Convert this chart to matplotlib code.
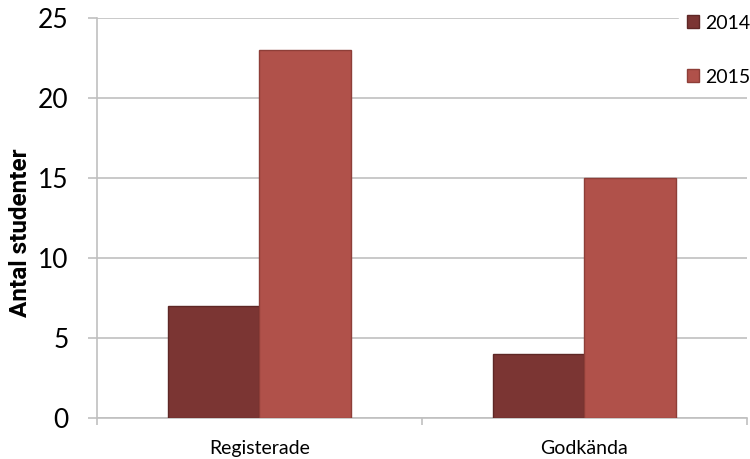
#!/usr/bin/env python3
"""Grouped bar chart: registered vs approved students, 2014 and 2015"""
import matplotlib
matplotlib.use('Agg')
import matplotlib.pyplot as plt
import numpy as np

categories = ['Registerade', 'Godkända']
series_names = ['2014', '2015']
values_2014 = [7, 4]
values_2015 = [23, 15]
yticks = [0, 5, 10, 15, 20, 25]

colors = ['#7b3533', '#b0514a']
edges = ['#5e2725', '#8e3e38']

plt.rcParams['font.family'] = ['Lato', 'DejaVu Sans']

fig = plt.figure(figsize=(7.5, 4.59), dpi=100)
ax = fig.add_axes([0.1293, 0.0893, 0.8667, 0.8715])

x = np.arange(len(categories))
w = 0.283
bars = []
for i, vals in enumerate([values_2014, values_2015]):
    b = ax.bar(x + (i - 0.5) * w, vals, w, color=colors[i], edgecolor=edges[i],
               linewidth=1.0, label=series_names[i], zorder=3)
    bars.append(b)

ax.set_xlim(-0.5, len(categories) - 0.5)
ax.set_ylim(0, 25)
ax.set_yticks(yticks)
ax.yaxis.grid(True, color='#c0c0c0', linewidth=1.2, zorder=0)

for s in ['top', 'right']:
    ax.spines[s].set_visible(False)
ax.spines['left'].set_color('#c0c0c0')
ax.spines['bottom'].set_color('#c0c0c0')
ax.spines['left'].set_linewidth(1.2)
ax.spines['bottom'].set_linewidth(1.2)

ax.tick_params(axis='y', length=6.5, width=1.2, color='#c0c0c0', pad=14, labelsize=19)
ax.set_xticks(x)
ax.set_xticklabels(categories)
ax.tick_params(axis='x', which='major', length=0, pad=16, labelsize=14)
ax.set_xticks(np.arange(len(categories) + 1) - 0.5, minor=True)
ax.tick_params(axis='x', which='minor', length=5, width=1.2, color='#c0c0c0')

ax.set_ylabel('Antal studenter', fontsize=17.5, fontweight='bold',
              family=['Roboto', 'DejaVu Sans'])
ax.yaxis.set_label_coords(-0.1, 0.4625)

leg = fig.legend(loc='upper left', bbox_to_anchor=(0.905, 0.985), frameon=True,
                 fontsize=14, handlelength=0.65, handleheight=0.65, handletextpad=0.3,
                 labelspacing=1.9, borderpad=0.4, borderaxespad=0)
leg.get_frame().set_edgecolor('white')
leg.get_frame().set_facecolor('white')
leg.get_frame().set_alpha(1)

fig.savefig('out.png', dpi=100)
